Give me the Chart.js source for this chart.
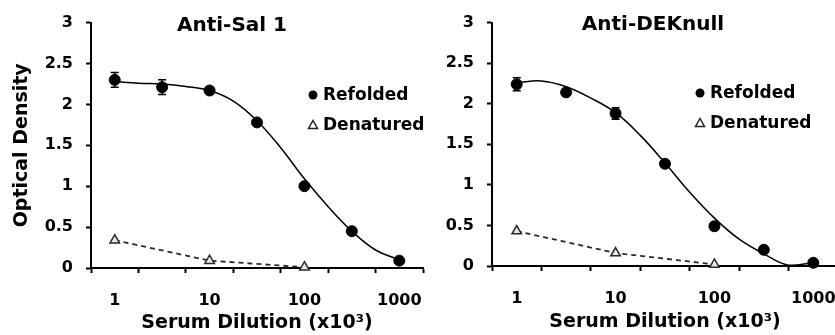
<!DOCTYPE html>
<html>
<head>
<meta charset="utf-8">
<script src="https://cdn.jsdelivr.net/npm/chart.js@4.4.0/dist/chart.umd.min.js"></script>
<style>
    html, body { margin: 0; padding: 0; background: #fff; overflow: hidden; }
    body { width: 835px; height: 335px; position: relative; }
    .panel { position: absolute; top: 0; height: 335px; }
    #salWrap { left: 0; width: 430px; }
    #dekWrap { left: 430px; width: 415px; }
</style>
</head>
<body>
<div class="panel" id="salWrap"><canvas id="salChart"></canvas></div>
<div class="panel" id="dekWrap"><canvas id="dekChart"></canvas></div>
<script>
// serum dilutions (x10^3)
const dilution = [1, 3.16, 10, 31.6, 100, 316, 1000];
const denatDilution = [1, 10, 100];
const fitDilution = [1, 1.78, 3.16, 5.62, 10, 17.8, 31.6, 56.2, 100, 178, 316, 562, 1000];
const xTickLabels = ['1', '10', '100', '1000'];
const yTickStep = 0.5;

// Anti-Sal 1
const salRefolded = [2.30, 2.21, 2.17, 1.78, 1.00, 0.45, 0.09];
const salRefoldedErr = [0.09, 0.09, 0, 0, 0, 0, 0];
const salDenatured = [0.34, 0.09, 0.01];
const salFit = [2.28, 2.26, 2.25, 2.22, 2.17, 2.04, 1.80, 1.47, 1.09, 0.75, 0.45, 0.22, 0.10];

// Anti-DEKnull
const dekRefolded = [2.24, 2.14, 1.88, 1.26, 0.49, 0.20, 0.04];
const dekRefoldedErr = [0.08, 0, 0.07, 0, 0.05, 0, 0];
const dekDenatured = [0.43, 0.16, 0.02];
const dekFit = [2.26, 2.28, 2.21, 2.07, 1.89, 1.61, 1.27, 0.91, 0.59, 0.33, 0.15, 0.01, 0.04];

Chart.defaults.font.family = "'DejaVu Sans', sans-serif";
Chart.defaults.font.weight = 'bold';
Chart.defaults.color = '#000';

// error bars, panel title and the in-plot legend
const panelDecor = {
    id: 'panelDecor',
    beforeDatasetsDraw(chart, args, opts) {
        const { ctx, scales: { x, y } } = chart;
        ctx.save();
        ctx.strokeStyle = '#000';
        ctx.lineWidth = 1.5;
        opts.values.forEach((v, i) => {
            const e = opts.errors[i];
            if (!e) return;
            const px = x.getPixelForValue(dilution[i]);
            const top = y.getPixelForValue(v + e);
            const bot = y.getPixelForValue(v - e);
            ctx.beginPath();
            ctx.moveTo(px, top); ctx.lineTo(px, bot);
            ctx.moveTo(px - 4, top); ctx.lineTo(px + 4, top);
            ctx.moveTo(px - 4, bot); ctx.lineTo(px + 4, bot);
            ctx.stroke();
        });
        ctx.restore();
    },
    afterDraw(chart, args, opts) {
        const ctx = chart.ctx;
        ctx.save();
        ctx.fillStyle = '#000';
        ctx.textBaseline = 'middle';

        // title
        ctx.font = "bold 20px 'DejaVu Sans'";
        ctx.textAlign = 'center';
        ctx.fillText(opts.title, opts.titleX, opts.titleY);

        // legend
        ctx.font = "bold 17px 'DejaVu Sans'";
        ctx.textAlign = 'left';
        const lx = opts.legendX, ly = opts.legendY, gap = opts.legendGap;
        ctx.beginPath();
        ctx.arc(lx, ly, 4.5, 0, Math.PI * 2);
        ctx.fill();
        ctx.fillText('Refolded', lx + 10, ly + 1);

        const ty = ly + gap;
        ctx.beginPath();
        ctx.moveTo(lx, ty - 4.5);
        ctx.lineTo(lx + 4.5, ty + 3.5);
        ctx.lineTo(lx - 4.5, ty + 3.5);
        ctx.closePath();
        ctx.fillStyle = '#fff';
        ctx.fill();
        ctx.strokeStyle = '#222';
        ctx.lineWidth = 1.5;
        ctx.stroke();
        ctx.fillStyle = '#000';
        ctx.fillText('Denatured', lx + 10, ty + 1);
        ctx.restore();
    }
};

function makeChart(id, cfg) {
    const ctx = document.getElementById(id).getContext('2d');
    return new Chart(ctx, {
        type: 'line',
        data: {
            datasets: [
                {
                    label: 'Refolded',
                    data: dilution.map((d, i) => ({ x: d, y: cfg.refolded[i] })),
                    showLine: false,
                    pointRadius: 5.5,
                    pointBackgroundColor: '#000',
                    pointBorderColor: '#000',
                    clip: false,
                    order: 0
                },
                {
                    label: 'Fit',
                    data: fitDilution.map((d, i) => ({ x: d, y: cfg.fit[i] })),
                    borderColor: '#000',
                    borderWidth: 1.5,
                    pointRadius: 0,
                    tension: 0.4,
                    clip: false,
                    order: 2
                },
                {
                    label: 'Denatured',
                    data: denatDilution.map((d, i) => ({ x: d, y: cfg.denatured[i] })),
                    borderColor: '#2a2a2a',
                    borderWidth: 1.8,
                    borderDash: [5, 4],
                    tension: 0,
                    pointStyle: 'triangle',
                    pointRadius: 5.5,
                    pointBackgroundColor: '#e6e6e6',
                    pointBorderColor: '#2a2a2a',
                    pointBorderWidth: 1.5,
                    clip: false,
                    order: 1
                }
            ]
        },
        options: {
            responsive: true,
            maintainAspectRatio: false,
            animation: false,
            events: [],
            layout: { padding: { left: 0, top: cfg.padTop, right: cfg.padRight, bottom: 0 } },
            plugins: {
                legend: { display: false },
                tooltip: { enabled: false },
                panelDecor: {
                    title: cfg.title, titleX: cfg.titleX, titleY: cfg.titleY,
                    legendX: cfg.legendX, legendY: cfg.legendY, legendGap: cfg.legendGap,
                    values: cfg.refolded, errors: cfg.errors
                }
            },
            scales: {
                x: {
                    type: 'logarithmic',
                    min: Math.pow(10, -0.25),
                    max: Math.pow(10, 3.25),
                    afterBuildTicks: s => {
                        const t = [];
                        for (let k = -1; k <= 13; k++) t.push({ value: Math.pow(10, k / 4) });
                        s.ticks = t;
                    },
                    afterFit: s => {
                        s.height = cfg.xHeight;
                        s.paddingLeft = 0;
                        s.paddingRight = 0;
                    },
                    ticks: {
                        autoSkip: false,
                        maxRotation: 0,
                        padding: 18,
                        font: { size: 16, weight: 'bold' },
                        callback: (v, i) => {
                            const k = i - 1;
                            return (k >= 0 && k % 4 === 0) ? xTickLabels[k / 4] : '';
                        }
                    },
                    grid: {
                        drawOnChartArea: false,
                        tickLength: 5,
                        tickWidth: 2,
                        tickColor: c => (c.index % 2 === 0 ? '#000' : 'rgba(0,0,0,0)')
                    },
                    border: { color: '#000', width: 2 },
                    title: {
                        display: true,
                        text: 'Serum Dilution (x10³)',
                        font: { size: 19, weight: 'bold' },
                        padding: { top: 0, bottom: cfg.xTitlePad }
                    }
                },
                y: {
                    min: 0,
                    max: 3,
                    afterFit: s => { s.width = cfg.yWidth; },
                    ticks: {
                        stepSize: yTickStep,
                        padding: 13,
                        font: { size: 16, weight: 'bold' },
                        callback: v => String(v)
                    },
                    grid: { drawOnChartArea: false, tickLength: 5, tickWidth: 2, tickColor: '#000' },
                    border: { color: '#000', width: 2 },
                    title: {
                        display: cfg.yTitle,
                        text: 'Optical Density',
                        font: { size: 19, weight: 'bold' },
                        padding: { top: 11, bottom: 0 }
                    }
                }
            }
        },
        plugins: [panelDecor]
    });
}

makeChart('salChart', {
    title: 'Anti-Sal 1', titleX: 232, titleY: 26,
    legendX: 313, legendY: 95, legendGap: 30,
    refolded: salRefolded, errors: salRefoldedErr, denatured: salDenatured, fit: salFit,
    padTop: 21, padRight: 7, xHeight: 67, yWidth: 91, xTitlePad: 1, yTitle: true
});

makeChart('dekChart', {
    title: 'Anti-DEKnull', titleX: 223, titleY: 25,
    legendX: 270, legendY: 93, legendGap: 30,
    refolded: dekRefolded, errors: dekRefoldedErr, denatured: dekDenatured, fit: dekFit,
    padTop: 16, padRight: 6, xHeight: 69, yWidth: 62, xTitlePad: 2, yTitle: false
});
</script>
</body>
</html>
